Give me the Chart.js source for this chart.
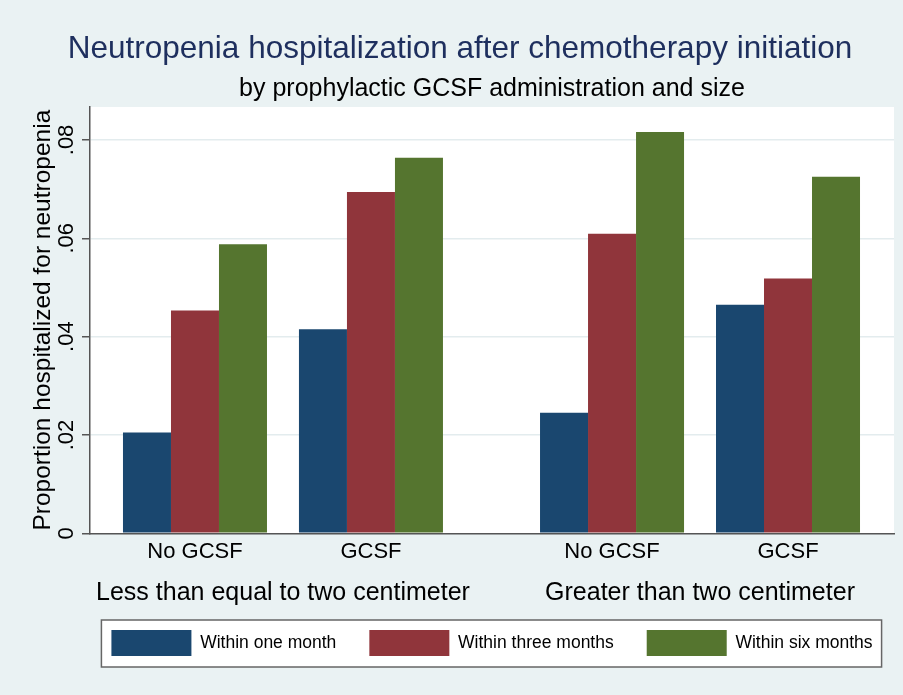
<!DOCTYPE html>
<html>
<head>
<meta charset="utf-8">
<script src="https://cdn.jsdelivr.net/npm/chart.js@4.4.1/dist/chart.umd.min.js"></script>
<style>
  html, body { margin: 0; padding: 0; background: #EAF2F3; }
  #wrap { width: 903px; height: 695px; }
</style>
</head>
<body>
<div id="wrap"><canvas id="myChart" width="903" height="695"></canvas></div>
<script>
// data
var sizeGroups = ["Less than equal to two centimeter", "Greater than two centimeter"];
var gcsfLabels = ["No GCSF", "GCSF", "No GCSF", "GCSF"];
var oneMonth   = [0.0205, 0.0415, 0.0245, 0.0465];
var threeMonth = [0.0453, 0.0694, 0.0609, 0.0518];
var sixMonth   = [0.0588, 0.0764, 0.0816, 0.0725];
var yTicks      = [0, 0.02, 0.04, 0.06, 0.08];
var yTickLabels = ["0", ".02", ".04", ".06", ".08"];

// layout of the clusters along the x axis (in cluster-width units)
var clusterPos = [0.729, 1.951, 3.625, 4.847];
var groupPos = [1.340, 4.236];
var xMax = 5.583;

var titleText = "Neutropenia hospitalization after chemotherapy initiation";
var subtitleText = "by prophylactic GCSF administration and size";

Chart.defaults.font.family = "'Liberation Sans', Arial, sans-serif";
Chart.defaults.color = "#000";

function points(vals) {
    return vals.map(function (v, i) { return { x: clusterPos[i], y: v }; });
}

var stataLook = {
    id: "stataLook",
    afterLayout: function (chart) {
        // legend and subtitle are centred on the plot region, not the page;
        // legend is pulled up a little so it tucks under the group labels
        var ca = chart.chartArea;
        var mid = (ca.left + ca.right) / 2;
        chart.boxes.forEach(function (b) {
            if (b === chart.legend) {
                var h = b.height;
                b.left = mid - 430;
                b.right = mid + 430;
                b.width = 860;
                b.top = 597;
                b.bottom = 597 + h;
            } else if (b !== chart.titleBlock && b.options && b.options.text === subtitleText) {
                b.left = ca.left;
                b.right = ca.right;
                b.width = ca.right - ca.left;
            }
        });
    },
    beforeDraw: function (chart) {
        var ctx = chart.ctx, ca = chart.chartArea;
        ctx.save();
        ctx.fillStyle = "#EAF2F3";
        ctx.fillRect(0, 0, chart.width, chart.height);
        ctx.fillStyle = "#fff";
        ctx.fillRect(ca.left, ca.top, ca.right - ca.left, ca.bottom - ca.top);
        // framed legend
        var hb = chart.legend.legendHitBoxes;
        if (hb && hb.length) {
            var last = hb[hb.length - 1];
            var l = hb[0].left - 10, r = last.left + last.width + 9;
            var t = hb[0].top - 10, b = hb[0].top + 26 + 11;
            ctx.fillRect(l, t, r - l, b - t);
            ctx.strokeStyle = "#666";
            ctx.lineWidth = 1.5;
            ctx.strokeRect(l, t, r - l, b - t);
        }
        ctx.restore();
    }
};

new Chart("myChart", {
    type: "bar",
    data: {
        datasets: [
            { label: "Within one month", data: points(oneMonth), backgroundColor: "#1A476F", borderWidth: 0 },
            { label: "Within three months", data: points(threeMonth), backgroundColor: "#90353B", borderWidth: 0 },
            { label: "Within six months", data: points(sixMonth), backgroundColor: "#55752F", borderWidth: 0 }
        ]
    },
    options: {
        responsive: false,
        animation: false,
        events: [],
        categoryPercentage: 1 / 1.222,
        barPercentage: 1,
        layout: { padding: { left: 26, right: 9, top: 0, bottom: 14 } },
        scales: {
            x: {
                type: "linear",
                min: 0,
                max: xMax,
                offset: false,
                weight: 1,
                afterBuildTicks: function (axis) {
                    axis.ticks = clusterPos.map(function (v) { return { value: v }; });
                },
                grid: { display: false, tickLength: 8 },
                border: { display: true, color: "#555", width: 1.5 },
                ticks: {
                    autoSkip: false,
                    maxRotation: 0,
                    padding: -0.3,
                    font: { size: 22, lineHeight: 1 },
                    color: "#000",
                    callback: function (v, i) { return gcsfLabels[i]; }
                }
            },
            x2: {
                type: "linear",
                position: "bottom",
                min: 0,
                max: xMax,
                offset: false,
                weight: 2,
                afterBuildTicks: function (axis) {
                    axis.ticks = groupPos.map(function (v) { return { value: v }; });
                },
                grid: { display: false, tickLength: 11.3 },
                border: { display: false },
                ticks: {
                    autoSkip: false,
                    maxRotation: 0,
                    padding: 4,
                    font: { size: 25, lineHeight: 1.2 },
                    color: "#000",
                    callback: function (v, i) { return sizeGroups[i]; }
                }
            },
            y: {
                min: 0,
                max: 0.0867,
                afterBuildTicks: function (axis) {
                    axis.ticks = yTicks.map(function (v) { return { value: v }; });
                },
                grid: { color: "#E3ECEE", lineWidth: 1.5, tickLength: 8, tickColor: "#555", tickWidth: 1.5 },
                border: { display: true, color: "#555", width: 1.5 },
                ticks: {
                    autoSkip: false,
                    minRotation: 90,
                    maxRotation: 90,
                    crossAlign: "center",
                    padding: -0.65,
                    font: { size: 22, lineHeight: 1 },
                    color: "#000",
                    callback: function (v, i) { return yTickLabels[i]; }
                },
                title: {
                    display: true,
                    text: "Proportion hospitalized for neutropenia",
                    font: { size: 24.5 },
                    color: "#000",
                    padding: { top: 2.3, bottom: 3.6 }
                }
            }
        },
        plugins: {
            title: {
                display: true,
                text: titleText,
                color: "#1E2F5E",
                font: { size: 31.5, weight: "normal" },
                padding: { top: 30.2, bottom: 0 }
            },
            subtitle: {
                display: true,
                text: subtitleText,
                color: "#000",
                font: { size: 25 },
                padding: { top: 6.6, bottom: 2.4 }
            },
            legend: {
                position: "bottom",
                labels: {
                    boxWidth: 80,
                    boxHeight: 26,
                    padding: 33,
                    color: "#000",
                    font: { size: 17.5 }
                }
            },
            tooltip: { enabled: false }
        }
    },
    plugins: [stataLook]
});
</script>
</body>
</html>
